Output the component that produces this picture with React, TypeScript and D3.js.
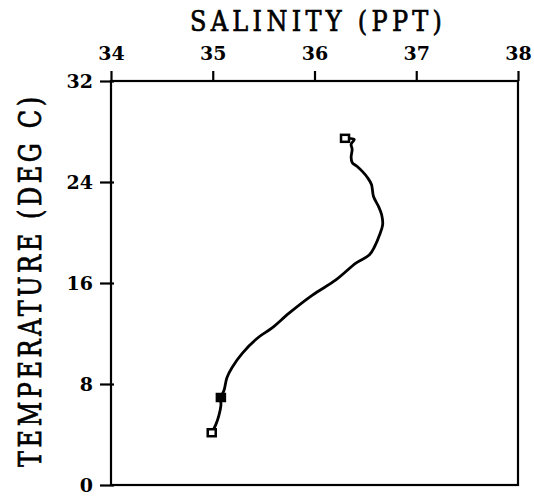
import React, { useEffect, useRef } from "react";
import * as d3 from "d3";

// salinity (ppt) / temperature (deg C) profile
const salinity = [
  36.30, 36.39, 36.36, 36.37, 36.36, 36.37, 36.42, 36.47, 36.52, 36.56,
  36.58, 36.63, 36.66, 36.67, 36.64, 36.59, 36.54, 36.41, 36.21, 35.98,
  35.75, 35.58, 35.45, 35.29, 35.19, 35.14, 35.11, 35.08, 35.08, 35.06,
  35.03, 34.99,
];
const temperature = [
  27.46, 27.38, 26.99, 26.59, 25.95, 25.55, 25.23, 24.84, 24.36, 23.80,
  22.85, 22.05, 21.41, 20.62, 19.82, 18.87, 18.23, 17.59, 16.24, 15.04,
  13.61, 12.42, 11.70, 10.43, 9.31, 8.52, 7.48, 6.93, 6.29, 5.49,
  4.78, 4.14,
];
// indices of the plotted station markers (top, middle, bottom)
const markerIdx = [0, 27, 31];
const markerFilled = [false, true, false];

const xTicks = [34, 35, 36, 37, 38];
const yTicks = [0, 8, 16, 24, 32];

const FONT = "'DejaVu Serif', 'Liberation Serif', serif";

export default function App() {
  const svgRef = useRef<SVGSVGElement>(null);

  useEffect(() => {
    if (!svgRef.current) return;
    const svg = d3.select(svgRef.current);
    svg.selectAll("*").remove();

    const x = d3.scaleLinear().domain([34, 38]).range([111, 518]);
    const y = d3.scaleLinear().domain([0, 32]).range([485, 81]);

    svg.append("rect").attr("width", 534).attr("height", 496).attr("fill", "#fff");

    // frame
    svg.append("rect")
      .attr("x", x(34)).attr("y", y(32))
      .attr("width", x(38) - x(34)).attr("height", y(0) - y(32))
      .attr("fill", "none").attr("stroke", "#000").attr("stroke-width", 2.2);

    // top axis
    const top = svg.append("g").attr("transform", `translate(0,${y(32)})`)
      .call(d3.axisTop(x).tickValues(xTicks).tickSize(10).tickPadding(11).tickFormat(d3.format("d")));
    top.select(".domain").remove();
    top.selectAll("line").attr("stroke", "#000").attr("stroke-width", 2.2);
    top.selectAll("text")
      .attr("fill", "#000").style("font-family", FONT)
      .style("font-size", "19px").style("font-weight", "bold");

    // left axis
    const left = svg.append("g").attr("transform", `translate(${x(34)},0)`)
      .call(d3.axisLeft(y).tickValues(yTicks).tickSize(11).tickPadding(7).tickFormat(d3.format("d")));
    left.select(".domain").remove();
    left.selectAll("line").attr("stroke", "#000").attr("stroke-width", 2.2).attr("x2", -11).attr("x1", 3);
    left.selectAll("text")
      .attr("fill", "#000").style("font-family", FONT)
      .style("font-size", "19px").style("font-weight", "bold");

    // titles
    svg.append("text")
      .attr("transform", "translate(316,31) scale(1,1.15)")
      .attr("text-anchor", "middle")
      .attr("textLength", 252).attr("lengthAdjust", "spacing")
      .attr("stroke", "#000").attr("stroke-width", 0.6)
      .style("font-family", FONT).style("font-size", "24px")
      .text("SALINITY (PPT)");

    svg.append("text")
      .attr("transform", "translate(41,282) rotate(-90) scale(1,1.3)")
      .attr("text-anchor", "middle")
      .attr("textLength", 370).attr("lengthAdjust", "spacing")
      .attr("stroke", "#000").attr("stroke-width", 0.6)
      .style("font-family", FONT).style("font-size", "24px")
      .text("TEMPERATURE (DEG C)");

    // profile line
    const pts = salinity.map((s, i) => [s, temperature[i]] as [number, number]);
    const line = d3.line<[number, number]>()
      .x(d => x(d[0]))
      .y(d => y(d[1]))
      .curve(d3.curveCatmullRom);

    svg.append("path")
      .datum(pts)
      .attr("fill", "none")
      .attr("stroke", "#000")
      .attr("stroke-width", 2.8)
      .attr("stroke-linejoin", "round")
      .attr("stroke-linecap", "round")
      .attr("d", line);

    // markers
    svg.selectAll("rect.marker")
      .data(markerIdx)
      .enter().append("rect")
      .attr("class", "marker")
      .attr("x", i => x(salinity[i]) - 4)
      .attr("y", i => y(temperature[i]) - 3.5)
      .attr("width", 8).attr("height", 7)
      .attr("fill", (_, k) => (markerFilled[k] ? "#000" : "#fff"))
      .attr("stroke", "#000").attr("stroke-width", 2.5);
  }, []);

  return (
    <svg
      ref={svgRef}
      width={534}
      height={496}
      style={{ position: "absolute", left: 0, top: 0 }}
    />
  );
}
